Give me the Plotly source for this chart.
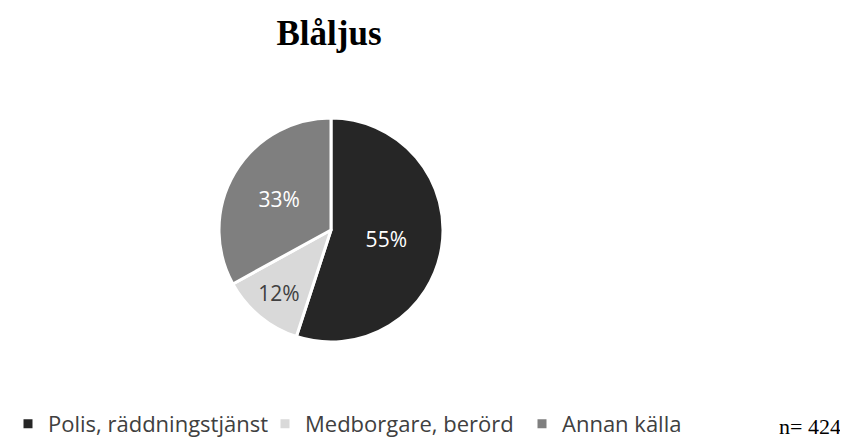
import plotly.graph_objects as go

# data
categories = ["Polis, räddningstjänst", "Medborgare, berörd", "Annan källa"]
shares = [55, 12, 33]
colors = ["#262626", "#d9d9d9", "#7f7f7f"]
label_colors = ["#ffffff", "#404040", "#ffffff"]
n_total = 424

# page has an 8px body margin, so the figure is 8px smaller than the window
W, H = 840, 431
MB = 60  # bottom margin reserved for the legend


def px_x(px):
    return (px - 8) / W


def py_paper(py):
    return 1 - (py - 8) / (H - MB)


cx, cy, r = 331, 230, 112

fig = go.Figure(go.Pie(
    labels=categories,
    values=shares,
    sort=False,
    direction="clockwise",
    rotation=0,
    marker=dict(colors=colors, line=dict(color="#ffffff", width=3)),
    textinfo="percent",
    textposition="inside",
    insidetextorientation="horizontal",
    textfont=dict(family="Open Sans", size=21, color=label_colors),
    domain=dict(x=[px_x(cx - r), px_x(cx + r)], y=[py_paper(cy + r), py_paper(cy - r)]),
    hoverinfo="label+percent",
))

fig.update_layout(
    width=W, height=H,
    margin=dict(l=0, r=0, t=0, b=MB),
    paper_bgcolor="white",
    plot_bgcolor="white",
    title=dict(text="<b>Blåljus</b>", x=px_x(329), xanchor="center", y=1 - 25 / H, yanchor="middle",
               font=dict(family="Liberation Serif", size=35, color="#000000")),
    legend=dict(orientation="h", xref="container", yref="container",
                x=0, xanchor="left", y=1 - 416 / H, yanchor="middle",
                font=dict(family="Open Sans", size=22, color="#404040"),
                entrywidth=212, entrywidthmode="pixels", traceorder="normal"),
    annotations=[dict(text=f"n= {n_total}", x=px_x(810), y=py_paper(426), xref="paper", yref="paper",
                      xanchor="center", yanchor="middle", showarrow=False,
                      font=dict(family="Liberation Serif", size=22, color="#000000"))],
)

fig.write_html("out.html")
